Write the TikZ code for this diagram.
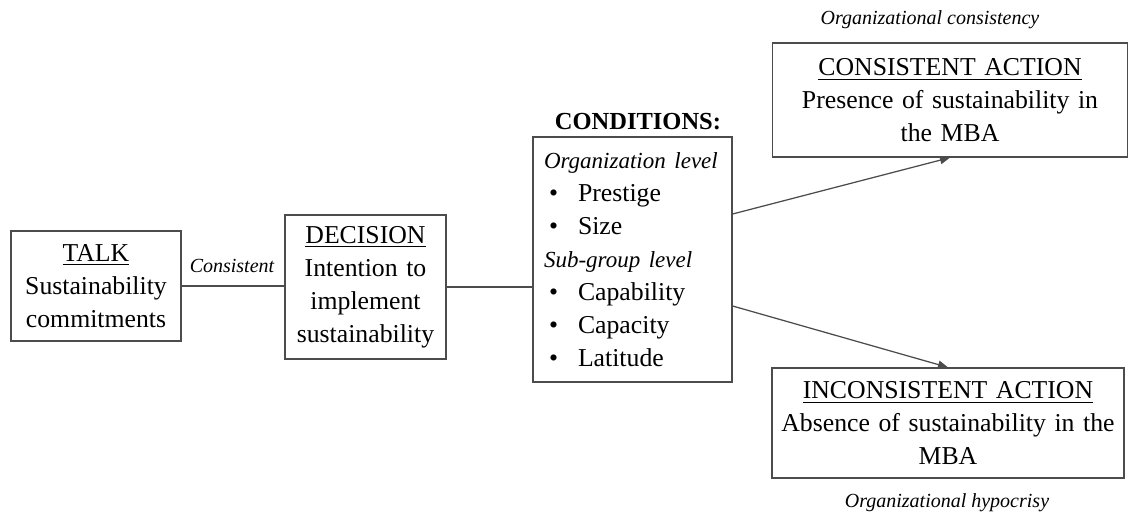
\documentclass[tikz,border=0pt]{standalone}
\usepackage{fontspec}
\setmainfont{Liberation Serif}
\usetikzlibrary{arrows.meta}

\newcommand{\itemline}[1]{\hspace*{2pt}\makebox[11.6pt][l]{\textbullet}#1}
\newcommand{\levelhead}[1]{\mbox{\fontsize{9.2}{13.2}\selectfont\itshape #1}}

\begin{document}
\begin{tikzpicture}[x=0.4pt, y=-0.4pt,
  box/.style={draw=black!70, line width=0.5pt, inner sep=0pt, align=center,
    font=\fontsize{10.3}{13.2}\selectfont},
  link/.style={draw=black!70, line width=0.5pt},
  note/.style={font=\fontsize{8}{9.6}\selectfont\itshape}]
  \useasboundingbox (0,0) rectangle (1132,519);
  % talk and decision
  \node[box, text width=68pt, minimum height=44pt] (talk) at (96,286)
    {\underline{TALK}\\ Sustainability\\ commitments};
  \node[box, text width=64.4pt, minimum height=57.6pt] (decision) at (365.5,287)
    {\underline{DECISION}\\ Intention to\\ implement\\ sustainability};
  \node[note] (consistent) at (232,266) {Consistent};
  \draw[link] (talk.east) -- (talk.east -| decision.west);
  % conditions
  \node[font=\fontsize{9.8}{12}\selectfont\bfseries] (condtitle) at (638,122) {CONDITIONS:};
  \node[box, align=left, text width=70.8pt, inner xsep=4.4pt, minimum height=98pt] (cond) at (632.5,259.5)
    {\levelhead{Organization level}\\
     \itemline{Prestige}\\
     \itemline{Size}\\
     \levelhead{Sub-group level}\\
     \itemline{Capability}\\
     \itemline{Capacity}\\
     \itemline{Latitude}};
  \draw[link] (decision.east) -- (decision.east -| cond.west);
  % outcomes
  \node[box, text width=142pt, minimum height=45.6pt] (consist) at (950,100)
    {\underline{CONSISTENT ACTION}\\ Presence of sustainability in\\ the MBA};
  \node[box, text width=140.8pt, minimum height=44pt] (incons) at (948,423)
    {\underline{INCONSISTENT ACTION}\\ Absence of sustainability in the\\ MBA};
  \node[note] (orgcons) at (930,20) {Organizational consistency};
  \node[note] (orghyp) at (947,503) {Organizational hypocrisy};
  \draw[link, -{Triangle[length=4pt, width=3.2pt]}] ([yshift=18.2pt]cond.east) -- (consist.south);
  \draw[link, -{Triangle[length=4pt, width=3.2pt]}] ([yshift=-18.6pt]cond.east) -- (incons.north);
\end{tikzpicture}
\end{document}
